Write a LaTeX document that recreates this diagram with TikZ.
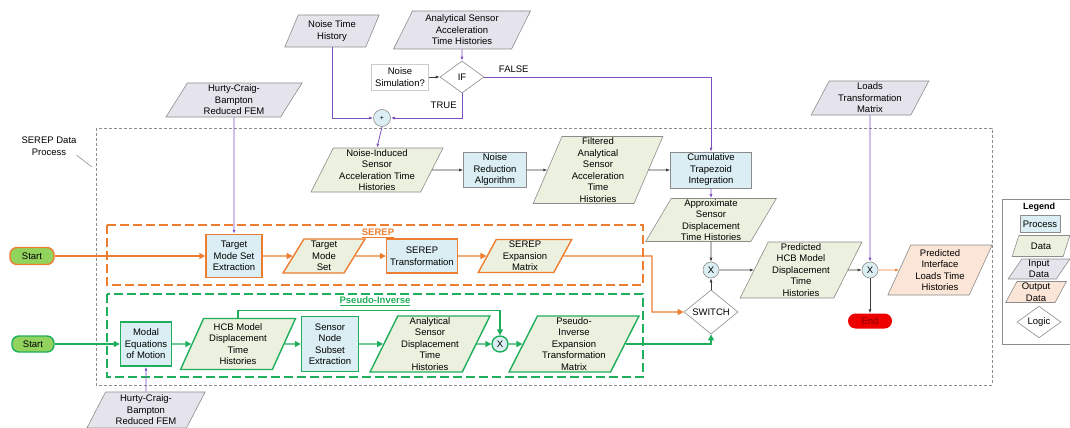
\documentclass[tikz,border=0pt]{standalone}
\usepackage{fontspec}
\setmainfont{Liberation Sans}
\usepackage{tikz}
\usetikzlibrary{arrows.meta,shapes.geometric}
\definecolor{boxgray}{HTML}{8C8C8C}
\definecolor{linkgray}{HTML}{3C3C3C}
\definecolor{procfill}{HTML}{DAEEF3}
\definecolor{datafill}{HTML}{EBF1DE}
\definecolor{infill}{HTML}{E5E4EC}
\definecolor{outfill}{HTML}{FBE5D6}
\definecolor{serep}{HTML}{ED7D31}
\definecolor{pinv}{HTML}{1FAE5B}
\definecolor{purp}{HTML}{7E4FBF}
\definecolor{startfill}{HTML}{92D35E}
\definecolor{endfill}{HTML}{EE0000}

\begin{document}
\begin{tikzpicture}[x=1pt,y=-1pt,
  every node/.style={align=center,inner sep=0pt,font=\fontsize{9.5}{11.5}\selectfont},
  proc/.style={rectangle,draw=boxgray,fill=procfill,line width=0.6pt},
  data/.style={trapezium,trapezium left angle=65,trapezium right angle=115,
    trapezium stretches=true,draw=boxgray,fill=datafill,line width=0.6pt},
  indata/.style={data,fill=infill},
  outdata/.style={data,fill=outfill},
  logic/.style={diamond,draw=boxgray,fill=white,line width=0.6pt},
  junc/.style={circle,draw=boxgray,fill=procfill,line width=0.6pt,minimum size=16pt},
  termnode/.style={rectangle,rounded corners=7pt,fill=startfill,line width=1.4pt},
  onserep/.style={draw=serep,line width=1.4pt},
  onpinv/.style={draw=pinv,line width=1.4pt},
  link/.style={draw=linkgray,line width=0.6pt,-{Latex[length=4pt,width=3pt]}},
  plink/.style={link,draw=purp,line width=0.8pt},
  olink/.style={draw=serep,line width=1.4pt,-{Triangle[length=6pt,width=6pt]}},
  glink/.style={olink,draw=pinv}]
  \useasboundingbox (0,0) rectangle (1070,428);
  % frames
  \draw[boxgray,line width=0.6pt,dash pattern=on 3pt off 2pt] (96,128) rectangle (992,385);
  \draw[serep,line width=1.2pt,dash pattern=on 9pt off 4pt] (107,225) rectangle (643,285);
  \draw[pinv,line width=1.2pt,dash pattern=on 9pt off 4pt] (107,294) rectangle (643,377);
  \node (sdplabel) at (49,146) {SEREP Data\\Process};
  \coordinate (sdptip) at (92,167);
  \draw[boxgray,line width=0.6pt] (sdplabel.south east) -- (sdptip);
  \node[text=serep,font=\bfseries\fontsize{9.5}{11.5}\selectfont] (sereplabel) at (378,233) {\underline{SEREP}};
  \node[text=pinv,font=\bfseries\fontsize{9.5}{11.5}\selectfont] (pinvlabel) at (375,301) {\underline{Pseudo-Inverse}};
  % inputs along the top
  \node[indata,minimum width=95pt,minimum height=32pt] (noisehist) at (332,31) {Noise Time\\History};
  \node[indata,minimum width=137pt,minimum height=38pt] (anaacc) at (462,30) {Analytical Sensor\\Acceleration\\Time Histories};
  \node[logic,minimum width=44pt,minimum height=32pt] (ifnode) at (462,77) {IF};
  \node[draw=black!20,fill=white,line width=0.6pt,minimum width=57pt,minimum height=26pt] (noisesim) at (400,77) {Noise\\Simulation?};
  \node[junc,minimum size=17pt,font=\fontsize{7}{8}\selectfont] (plus) at (382,118) {+};
  \node[indata,minimum width=137pt,minimum height=34pt] (hcbtop) at (234,100) {Hurty-Craig-\\Bampton\\Reduced FEM};
  \node[indata,minimum width=118pt,minimum height=34pt] (loads) at (870,98) {Loads\\Transformation\\Matrix};
  % acceleration to displacement
  \node[data,minimum width=132pt,minimum height=44pt] (noiseind) at (377,170) {Noise-Induced\\Sensor\\Acceleration Time\\Histories};
  \node[proc,minimum width=63pt,minimum height=35pt] (noisered) at (495,170) {Noise\\Reduction\\Algorithm};
  \node[data,trapezium left angle=72,trapezium right angle=108,minimum width=130pt,minimum height=67pt] (filtered) at (598,170) {Filtered\\Analytical\\Sensor\\Acceleration\\Time\\Histories};
  \node[proc,minimum width=81pt,minimum height=36pt] (cumtrap) at (711,170) {Cumulative\\Trapezoid\\Integration};
  \node[data,minimum width=132pt,minimum height=43pt] (approx) at (711,220) {Approximate\\Sensor\\Displacement\\Time Histories};
  \node[junc] (xapprox) at (711,270) {X};
  \node[logic,minimum width=54pt,minimum height=32pt] (switch) at (711,312) {SWITCH};
  \node[data,minimum width=122pt,minimum height=56pt] (predhcb) at (801,270) {Predicted\\HCB Model\\Displacement\\Time\\Histories};
  \node[junc] (xloads) at (870,270) {X};
  \node[outdata,minimum width=105pt,minimum height=50pt] (predload) at (940,270) {Predicted\\Interface\\Loads Time\\Histories};
  \node[rectangle,rounded corners=7.5pt,fill=endfill,text=red!50!black,minimum width=44pt,minimum height=15pt] (endnode) at (870,321) {End};
  % SEREP path
  \node[termnode,draw=serep,minimum width=44pt,minimum height=17pt] (startA) at (32,256) {Start};
  \node[proc,onserep,minimum width=56pt,minimum height=43pt] (tmse) at (234,256) {Target\\Mode Set\\Extraction};
  \node[data,onserep,minimum width=82pt,minimum height=34pt] (tms) at (324,256) {Target\\Mode\\Set};
  \node[proc,onserep,minimum width=71pt,minimum height=34pt] (sereptr) at (422,256) {SEREP\\Transformation};
  \node[data,onserep,minimum width=94pt,minimum height=33pt] (serepexp) at (525,256) {SEREP\\Expansion\\Matrix};
  % pseudo-inverse path
  \node[termnode,draw=pinv,minimum width=42pt,minimum height=16pt] (startB) at (33,344) {Start};
  \node[proc,onpinv,minimum width=51pt,minimum height=44pt] (modal) at (146,344) {Modal\\Equations\\of Motion};
  \node[data,onpinv,minimum width=116pt,minimum height=51pt] (hcbdisp) at (238,344) {HCB Model\\Displacement\\Time\\Histories};
  \node[proc,onpinv,minimum width=57pt,minimum height=55pt] (sensnode) at (330,344) {Sensor\\Node\\Subset\\Extraction};
  \node[data,onpinv,minimum width=120pt,minimum height=56pt] (anadisp) at (430,344) {Analytical\\Sensor\\Displacement\\Time\\Histories};
  \node[junc,draw=pinv,line width=1.4pt] (xpinv) at (500,344) {X};
  \node[data,onpinv,minimum width=130pt,minimum height=56pt] (pinvexp) at (574,344) {Pseudo-\\Inverse\\Expansion\\Transformation\\Matrix};
  \node[indata,minimum width=119pt,minimum height=36pt] (hcbbot) at (146,410) {Hurty-Craig-\\Bampton\\Reduced FEM};
  % legend
  \draw[boxgray,line width=0.6pt] (1002,199) rectangle (1076,344);
  \node[font=\bfseries\fontsize{9}{11}\selectfont] (legtitle) at (1039,207) {Legend};
  \node[proc,minimum width=40pt,minimum height=17pt] (legproc) at (1040,224) {Process};
  \node[data,minimum width=58pt,minimum height=21pt] (legdata) at (1041,246) {Data};
  \node[indata,minimum width=62pt,minimum height=20pt] (legin) at (1039,269) {Input\\Data};
  \node[outdata,minimum width=61pt,minimum height=21pt] (legout) at (1036,292) {Output\\Data};
  \node[logic,minimum width=44pt,minimum height=31pt] (leglogic) at (1039,322) {Logic};
  % noise branch
  \draw[plink] (noisehist.south) |- (plus.west);
  \draw[plink] (anaacc.south) -- (ifnode.north);
  \draw[link] (noisesim.east) -- (ifnode.west);
  \draw[plink] (ifnode.south) |- node[pos=0.25,left=5pt] {TRUE} (plus.east);
  \draw[plink] (ifnode.east) -| node[pos=0.065,above=4pt] {FALSE} (cumtrap.north);
  \draw[plink] (plus.south) -- (noiseind.north);
  \draw[link] (noiseind.east) -- (noisered.west);
  \draw[link] (noisered.east) -- (filtered.west);
  \draw[link] (filtered.east) -- (cumtrap.west);
  \draw[plink] (cumtrap.south) -- (approx.north);
  \draw[link] (approx.south) -- (xapprox.north);
  \draw[link] (switch.north) -- (xapprox.south);
  \draw[link] (xapprox.east) -- (predhcb.west);
  \draw[link] (predhcb.east) -- (xloads.west);
  \draw[plink] (loads.south) -- (xloads.north);
  \draw[link,draw=serep] (xloads.east) -- (predload.west);
  \draw[link] (xloads.south) -- (endnode.north);
  % SEREP links
  \draw[plink] (hcbtop.south) -- (tmse.north);
  \draw[olink] (startA.east) -- (tmse.west);
  \draw[olink] (tmse.east) -- (tms.west);
  \draw[olink] (tms.east) -- (sereptr.west);
  \draw[olink] (sereptr.east) -- (serepexp.west);
  \coordinate (serepbend) at (652,256);
  \draw[olink] (serepexp.east) -- (serepbend) |- (switch.west);
  % pseudo-inverse links
  \draw[plink] (hcbbot.north) -- (modal.south);
  \draw[glink] (startB.east) -- (modal.west);
  \draw[glink] (modal.east) -- (hcbdisp.west);
  \draw[glink] (hcbdisp.east) -- (sensnode.west);
  \draw[glink] (sensnode.east) -- (anadisp.west);
  \draw[glink] (anadisp.east) -- (xpinv.west);
  \draw[glink] (xpinv.east) -- (pinvexp.west);
  \draw[glink] (hcbdisp.north) -- ++(0,-7) -| (xpinv.north);
  \draw[glink] (pinvexp.east) -| (switch.south);
\end{tikzpicture}
\end{document}
